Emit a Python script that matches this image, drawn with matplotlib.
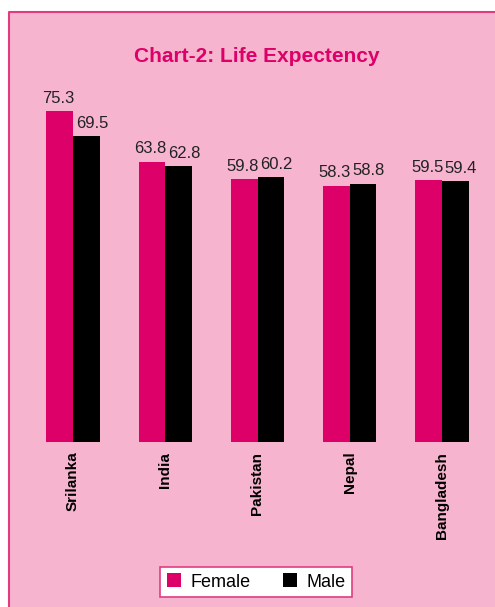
import matplotlib
matplotlib.use("Agg")
import matplotlib.pyplot as plt
from matplotlib import font_manager
from matplotlib.patches import Rectangle
from matplotlib.lines import Line2D
import numpy as np

countries = ["Srilanka", "India", "Pakistan", "Nepal", "Bangladesh"]
female = [75.3, 63.8, 59.8, 58.3, 59.5]
male = [69.5, 62.8, 60.2, 58.8, 59.4]

names = {f.name for f in font_manager.fontManager.ttflist}
narrow = "Liberation Sans Narrow" if "Liberation Sans Narrow" in names else "Liberation Sans"
plt.rcParams["font.family"] = [narrow, "DejaVu Sans"]

PINK = "#f7b4cf"
MAGENTA = "#dc0068"
EDGE = "#e03c82"

W, H = 495, 607
fig = plt.figure(figsize=(W / 100, H / 100), dpi=100, facecolor="white")

# pink panel, border only on the left and top edges
left, top = 8.5 / W, 1 - 11.5 / H
fig.patches.append(Rectangle((left, 0), 1 - left, top, transform=fig.transFigure,
                             facecolor=PINK, edgecolor="none", zorder=-5))
fig.lines.append(Line2D([left, left, 1], [0, top, top], transform=fig.transFigure,
                        color=EDGE, linewidth=1.5, zorder=-4))

ymax = 80
px_per = 4.396
ax_bottom = H - 442
ax_h = ymax * px_per
ax = fig.add_axes([27 / W, ax_bottom / H, 461 / W, ax_h / H])
ax.set_zorder(2)
ax.set_facecolor("none")

x = np.arange(len(countries))
w = 0.29
bf = ax.bar(x - w / 2, female, w, color=MAGENTA, label="Female")
bm = ax.bar(x + w / 2, male, w, color="black", label="Male")
ax.set_xlim(-0.5, len(countries) - 0.5)
ax.set_ylim(0, ymax)

for b, v in zip(bf, female):
    ax.annotate(f"{v:.1f}", (b.get_x() + b.get_width() / 2, v), xytext=(-1, 6),
                textcoords="offset points", ha="center", va="baseline",
                fontsize=12, color="#222222")
for b, v in zip(bm, male):
    ax.annotate(f"{v:.1f}", (b.get_x() + b.get_width() / 2, v), xytext=(4, 6),
                textcoords="offset points", ha="center", va="baseline",
                fontsize=12, color="#222222")

ax.set_xticks(x)
ax.set_xticklabels(countries, rotation=90, fontsize=11, fontweight="bold", va="top")
ax.tick_params(axis="x", length=0, pad=7)
ax.set_yticks([])
for s in ax.spines.values():
    s.set_visible(False)

fig.text(257 / W, 1 - 57 / H, "Chart-2: Life Expectency", ha="center", va="center",
         fontsize=15, fontweight="bold", color=MAGENTA)

leg = fig.legend(handles=[bf, bm], labels=["Female", "Male"], loc="center",
                 bbox_to_anchor=(256 / W, 1 - 582 / H), ncol=2, frameon=True,
                 fancybox=False, framealpha=1, fontsize=13, handlelength=0.8,
                 handleheight=0.8, handletextpad=0.5, columnspacing=1.8,
                 borderpad=0.35, borderaxespad=0)
leg.get_frame().set_edgecolor(EDGE)
leg.get_frame().set_facecolor("white")
leg.get_frame().set_linewidth(1.2)

fig.savefig("out.png", dpi=100, facecolor="white")
